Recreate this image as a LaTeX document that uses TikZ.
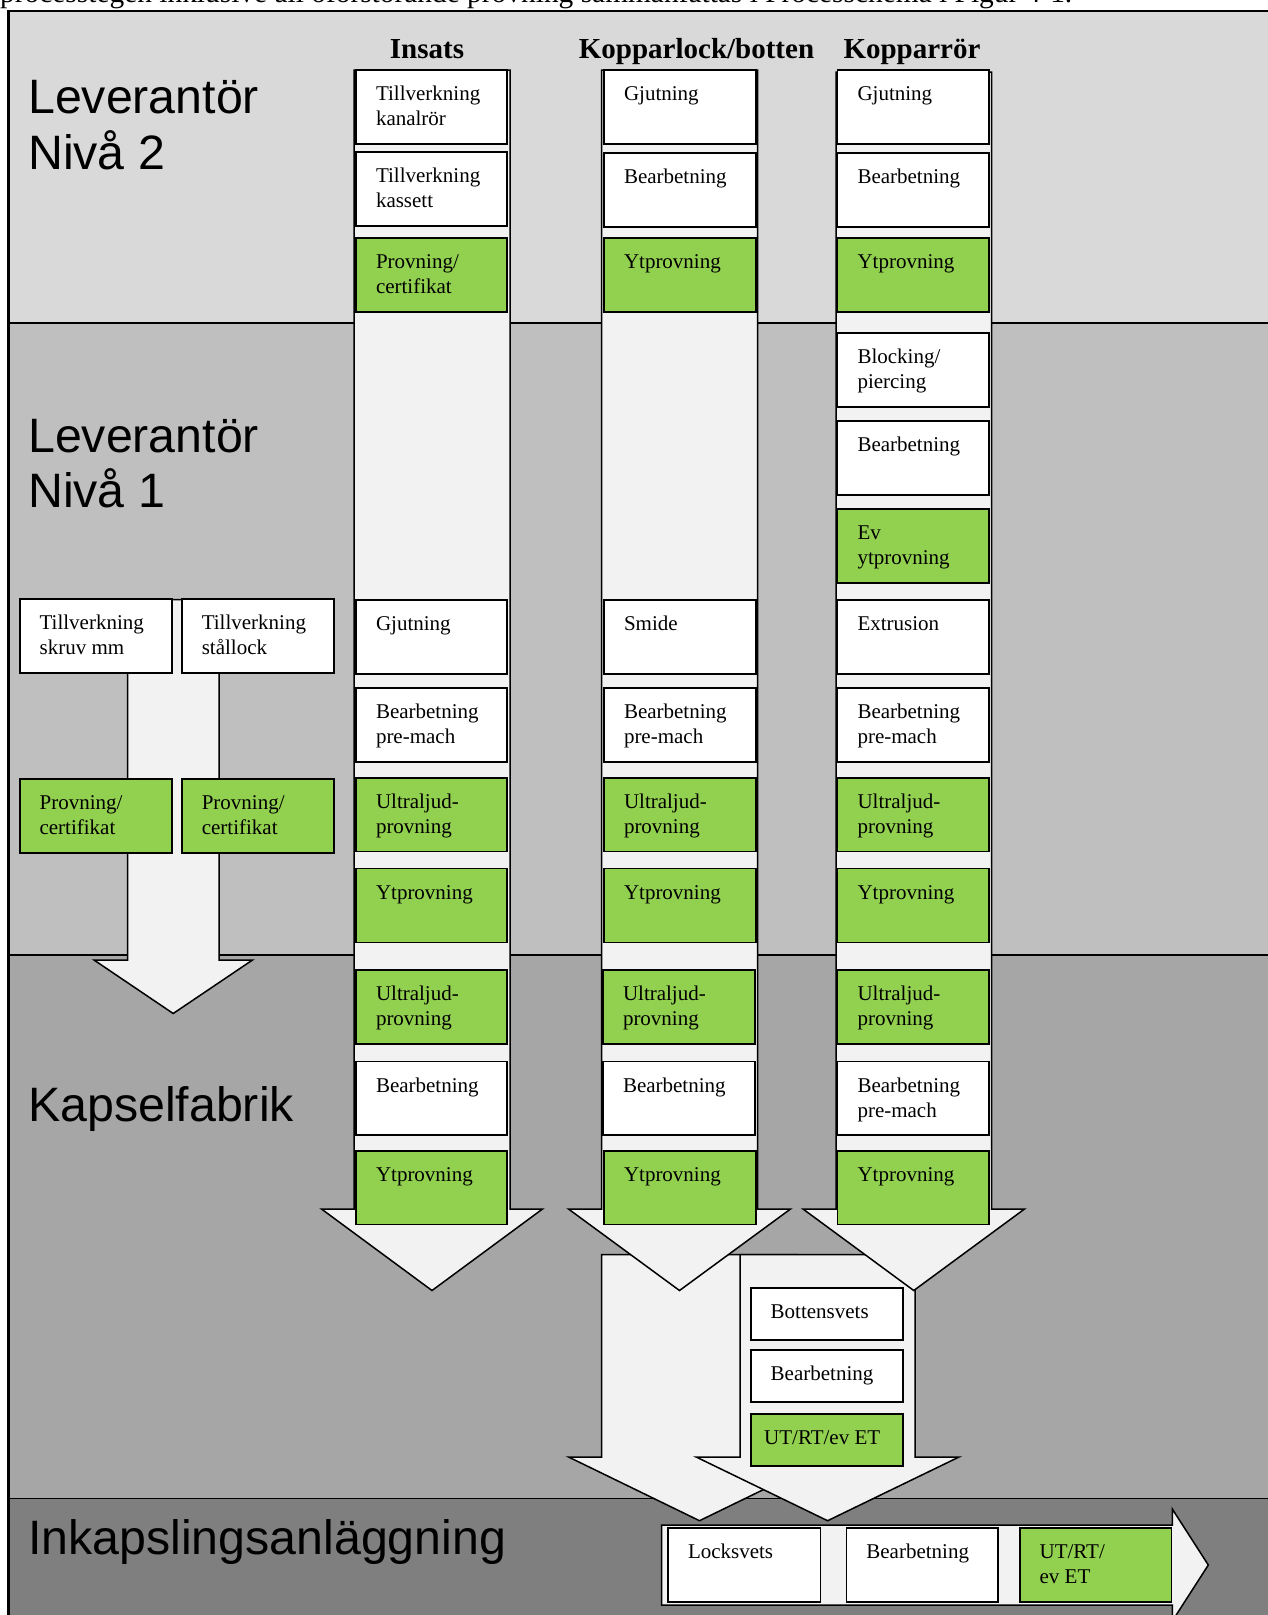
\documentclass[tikz,border=0pt]{standalone}
\usepackage{fontspec}
\setmainfont{Liberation Serif}
\newfontfamily\lsans{Liberation Sans}
\usetikzlibrary{fit}
\definecolor{bandA}{HTML}{D9D9D9}
\definecolor{bandB}{HTML}{BFBFBF}
\definecolor{bandC}{HTML}{A6A6A6}
\definecolor{bandD}{HTML}{7F7F7F}
\definecolor{shaftgray}{HTML}{F2F2F2}
\definecolor{testgreen}{HTML}{92D050}
\newcommand\procbox[8]{%
  \node[stepbox, fill=#6, fit={(#2,#3) (#4,#5)}] (#1) {};
  \node[boxtext] (#1t) at ([xshift=20pt,yshift=-30.5pt]#1.north west) {\vtop{\baselineskip=25pt\hbox{#7}\hbox{#8}}};
}
\begin{document}
\begin{tikzpicture}[x=1pt,y=-1pt,
  stepbox/.style={draw=black, line width=1.8pt, inner sep=0pt, outer sep=0pt},
  boxtext/.style={anchor=base west, inner sep=0pt, outer sep=0pt, font=\fontsize{21}{25}\selectfont},
  heading/.style={anchor=base, inner sep=0pt, font=\bfseries\fontsize{29}{34}\selectfont},
  bandlabel/.style={anchor=base west, inner sep=0pt, font=\lsans\fontsize{48.3}{56}\selectfont},
  blockarrow/.style={draw=black, fill=shaftgray, line width=1.5pt, line join=miter},
  bandline/.style={draw=black, line width=1.6pt}
]
\useasboundingbox (0,0) rectangle (1268,1615);
\clip (0,0) rectangle (1268,1615);

% cut-off text line above the figure (cut as in the reference)
\node[anchor=base west, inner sep=0pt, font=\fontsize{29.4}{34}\selectfont] (toptext) at (0,2.5) {processtegen inklusive all oförstörande provning sammanfattas i Processchema i Figur 4-1.};

% bands
\fill[bandA] (8.5,11) rectangle (1300,322.7);
\fill[bandB] (8.5,322.7) rectangle (1300,955);
\fill[bandC] (8.5,955) rectangle (1300,1498.5);
\fill[bandD] (8.5,1498.5) rectangle (1300,1700);
\draw[line width=2.2pt] (8.5,1700) -- (8.5,11) -- (1300,11);
\draw[bandline] (8.5,322.7) -- (1300,322.7);
\draw[bandline] (8.5,955) -- (1300,955);
\draw[bandline] (8.5,1498.5) -- (1300,1498.5);

% band labels
\node[bandlabel] (lev2) at (28,113.5) {\vtop{\baselineskip=55.5pt\hbox{Leverantör}\hbox{Nivå 2}}};
\node[bandlabel] (lev1) at (28,452.7) {\vtop{\baselineskip=54.6pt\hbox{Leverantör}\hbox{Nivå 1}}};
\node[bandlabel] (kapsel) at (28,1121) {Kapselfabrik};
\node[bandlabel] (inkaps) at (28,1554) {Inkapslingsanläggning};

% headings
\node[heading] (hins) at (427,58) {Insats};
\node[heading] (hkl) at (696.5,58) {Kopparlock/botten};
\node[heading] (hkr) at (912,58) {Kopparrör};

% left arrow (skruv / stållock)
\draw[blockarrow] (127.5,599.5) -- (219,599.5) -- (219,960) -- (252.5,960) -- (173.2,1013.5) -- (94,960) -- (127.5,960) -- cycle;

% big arrows into the encapsulation plant
\draw[blockarrow] (601.5,1254.5) -- (797.5,1254.5) -- (797.5,1457) -- (830.4,1457) -- (699.5,1520.7) -- (568.6,1457) -- (601.5,1457) -- cycle;
\draw[blockarrow] (740,1254.5) -- (915,1254.5) -- (915,1457) -- (959,1457) -- (827.6,1520.7) -- (696.2,1457) -- (740,1457) -- cycle;

% column arrows
\draw[blockarrow] (354,70) -- (510,70) -- (510,1209) -- (542.5,1209) -- (432,1290.5) -- (321.5,1209) -- (354,1209) -- cycle;
\draw[blockarrow] (601.5,70) -- (757.5,70) -- (757.5,1209) -- (790.5,1209) -- (679.5,1290.5) -- (568.5,1209) -- (601.5,1209) -- cycle;
\draw[blockarrow] (836,72) -- (991.5,72) -- (991.5,1209) -- (1024.5,1209) -- (913.75,1290.5) -- (803,1209) -- (836,1209) -- cycle;

% bottom horizontal arrow
\draw[blockarrow] (661.6,1525) -- (1172.3,1525) -- (1172.3,1509) -- (1208.3,1565) -- (1172.3,1621) -- (1172.3,1605) -- (661.6,1605) -- cycle;

% left boxes
\procbox{sa}{19.6}{599.3}{171.8}{673.3}{white}{Tillverkning}{skruv mm}
\procbox{sb}{181.8}{599.3}{334}{673.3}{white}{Tillverkning}{stållock}
\procbox{sc}{19.6}{779.3}{171.8}{852.7}{testgreen}{Provning/}{certifikat}
\procbox{sd}{181.8}{779.3}{334}{852.7}{testgreen}{Provning/}{certifikat}

% Insats column
\procbox{ia}{356}{70}{507}{144}{white}{Tillverkning}{kanalrör}
\procbox{ib}{356}{152}{507}{226}{white}{Tillverkning}{kassett}
\procbox{ic}{356}{238}{507}{312}{testgreen}{Provning/}{certifikat}
\procbox{ig}{356}{600}{507}{674}{white}{Gjutning}{}
\procbox{ih}{356}{688}{507}{762}{white}{Bearbetning}{pre-mach}
\procbox{ii}{356}{778}{507}{851.5}{testgreen}{Ultraljud-}{provning}
\procbox{ij}{356}{868.5}{507}{942.5}{testgreen}{Ytprovning}{}
\procbox{ik}{356}{969.7}{507}{1044}{testgreen}{Ultraljud-}{provning}
\procbox{il}{356}{1061.5}{507}{1135.3}{white}{Bearbetning}{}
\procbox{im}{356}{1150.7}{507}{1224.5}{testgreen}{Ytprovning}{}

% Kopparlock/botten column
\procbox{ka}{604}{70}{756}{144}{white}{Gjutning}{}
\procbox{kb}{604}{153}{756}{227}{white}{Bearbetning}{}
\procbox{kc}{604}{238}{756}{312}{testgreen}{Ytprovning}{}
\procbox{kg}{604}{600}{756}{674}{white}{Smide}{}
\procbox{kh}{604}{688}{756}{762}{white}{Bearbetning}{pre-mach}
\procbox{ki}{604}{778}{756}{851.5}{testgreen}{Ultraljud-}{provning}
\procbox{kj}{604}{868.5}{756}{942.5}{testgreen}{Ytprovning}{}
\procbox{kk}{603}{969.7}{755}{1044}{testgreen}{Ultraljud-}{provning}
\procbox{kl}{603}{1061.5}{755}{1135.3}{white}{Bearbetning}{}
\procbox{km}{604}{1150.7}{756}{1224.5}{testgreen}{Ytprovning}{}

% Kopparrör column
\procbox{ra}{837.5}{70}{989}{144}{white}{Gjutning}{}
\procbox{rb}{837.5}{153}{989}{227}{white}{Bearbetning}{}
\procbox{rc}{837.5}{238}{989}{312}{testgreen}{Ytprovning}{}
\procbox{rd}{837.5}{333.3}{989}{407.3}{white}{Blocking/}{piercing}
\procbox{re}{837.5}{421.3}{989}{495.3}{white}{Bearbetning}{}
\procbox{rf}{837.5}{508.7}{989}{582.7}{testgreen}{Ev}{ytprovning}
\procbox{rg}{837.5}{600}{989}{674}{white}{Extrusion}{}
\procbox{rh}{837.5}{688}{989}{762}{white}{Bearbetning}{pre-mach}
\procbox{ri}{837.5}{778}{989}{851.5}{testgreen}{Ultraljud-}{provning}
\procbox{rj}{837.5}{868.5}{989}{942.5}{testgreen}{Ytprovning}{}
\procbox{rk}{837.5}{969.7}{989}{1044}{testgreen}{Ultraljud-}{provning}
\procbox{rl}{837.5}{1061.5}{989}{1135.3}{white}{Bearbetning}{pre-mach}
\procbox{rm}{837.5}{1150.7}{989}{1224.5}{testgreen}{Ytprovning}{}

% boxes in the bottom (Kopparrör) arrow
\procbox{ba}{750.7}{1288.3}{903}{1340}{white}{Bottensvets}{}
\procbox{bb}{750.7}{1350.3}{903}{1402}{white}{Bearbetning}{}
\node[stepbox, fill=testgreen, fit={(750.7,1413.7) (903,1465.7)}] (bc) {};
\node[boxtext] (bct) at ([xshift=13.5pt,yshift=-31pt]bc.north west) {UT/RT/ev ET};

% boxes in the horizontal arrow
\procbox{ha}{668}{1528.3}{820.4}{1601.7}{white}{Locksvets}{}
\procbox{hb}{846.4}{1528.3}{998.2}{1601.7}{white}{Bearbetning}{}
\procbox{hc}{1019.6}{1528.3}{1171.4}{1601.7}{testgreen}{UT/RT/}{ev ET}
\end{tikzpicture}
\end{document}
